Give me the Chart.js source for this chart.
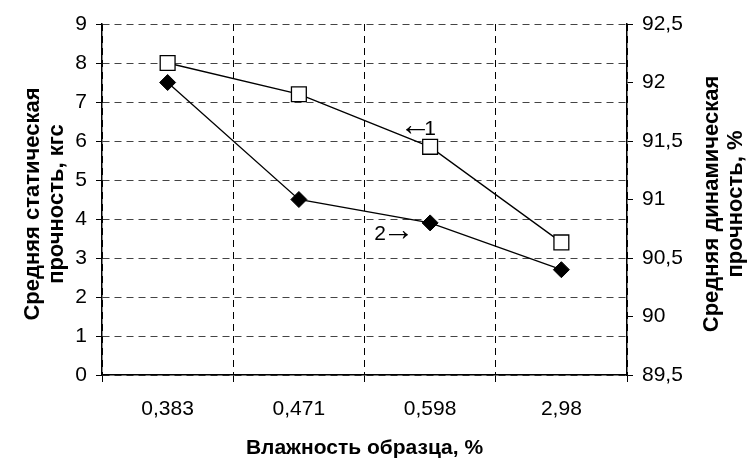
<!DOCTYPE html>
<html>
<head>
<meta charset="utf-8">
<script src="https://cdn.jsdelivr.net/npm/chart.js@4"></script>
<style>
  body { margin: 0; background: #fff; }
  canvas { display: block; }
</style>
</head>
<body>
<canvas id="grafico" width="748" height="461"></canvas>
<script>
const categorias = ['0,383', '0,471', '0,598', '2,98'];
const estatica = [8.0, 7.2, 5.85, 3.4];      // 1, левая ось, кгс
const dinamica = [92.0, 91.0, 90.8, 90.4];   // 2, правая ось, %
const tituloX = 'Влажность образца, %';
const tituloEsq = ['Средняя статическая', 'прочность, кгс'];
const tituloDir = ['Средняя динамическая', 'прочность, %'];

const fonte = 'Arial, "Liberation Sans", "DejaVu Sans", sans-serif';
const virgula = v => String(v).replace('.', ',');

const textos = {
  id: 'textos',
  afterDraw(chart) {
    const ctx = chart.ctx;
    const a = chart.chartArea;
    const x = chart.scales.x;
    const yE = chart.scales.y;
    ctx.save();
    ctx.fillStyle = '#000';
    ctx.textAlign = 'center';
    ctx.textBaseline = 'middle';
    ctx.font = 'bold 21px ' + fonte;
    ctx.fillText(tituloX, (a.left + a.right) / 2, 448);
    ctx.font = 'bold 22px ' + fonte;
    [[33, tituloEsq[0]], [57, tituloEsq[1]], [712, tituloDir[0]], [736, tituloDir[1]]].forEach(([px, t]) => {
      ctx.save();
      ctx.translate(px, 204);
      ctx.rotate(-Math.PI / 2);
      ctx.fillText(t, 0, 0);
      ctx.restore();
    });
    // подписи кривых
    const cx = x.getPixelForValue(2);
    ctx.textAlign = 'left';
    const y1 = yE.getPixelForValue(6.3);
    const y2 = yE.getPixelForValue(3.6);
    ctx.font = '32px ' + fonte;
    ctx.fillText('\u2190', cx - 31, y1 - 3);
    ctx.fillText('\u2192', cx - 48, y2 - 3);
    ctx.font = '21px ' + fonte;
    ctx.fillText('1', cx - 6, y1);
    ctx.fillText('2', cx - 56, y2);
    ctx.restore();
  }
};

new Chart(document.getElementById('grafico'), {
  type: 'line',
  data: {
    labels: categorias,
    datasets: [
      {
        label: '1',
        data: estatica,
        yAxisID: 'y',
        borderColor: '#000',
        borderWidth: 1.3,
        pointStyle: 'rect',
        pointRadius: 10.5,
        pointBackgroundColor: '#fff',
        pointBorderColor: '#000',
        pointBorderWidth: 1.3,
        tension: 0
      },
      {
        label: '2',
        data: dinamica,
        yAxisID: 'y2',
        borderColor: '#000',
        borderWidth: 1.3,
        pointStyle: 'rectRot',
        pointRadius: 8,
        pointBackgroundColor: '#000',
        pointBorderColor: '#000',
        pointBorderWidth: 1,
        tension: 0
      }
    ]
  },
  options: {
    responsive: false,
    animation: false,
    layout: { padding: { top: 24, left: 0, right: 0, bottom: 0 } },
    plugins: { legend: { display: false }, tooltip: { enabled: false } },
    scales: {
      x: {
        offset: true,
        grid: {
          offset: true,
          color: '#000',
          lineWidth: 1,
          tickLength: 7,
          tickBorderDash: [],
          tickColor: '#000'
        },
        border: { display: true, color: '#000', width: 1.5, dash: [7, 5] },
        ticks: { color: '#000', font: { family: fonte, size: 21 }, padding: 15 },
        afterFit(s) { s.height = 86; }
      },
      y: {
        position: 'left',
        min: 0,
        max: 9,
        ticks: { stepSize: 1, color: '#000', font: { family: fonte, size: 21 }, padding: 9, callback: virgula },
        grid: {
          color: '#444',
          lineWidth: 1,
          tickLength: 6,
          tickBorderDash: [],
          tickColor: '#000'
        },
        border: { display: true, color: '#000', width: 1.5, dash: [7, 5] },
        afterFit(s) { s.width = 102; }
      },
      y2: {
        position: 'right',
        min: 89.5,
        max: 92.5,
        ticks: { stepSize: 0.5, color: '#000', font: { family: fonte, size: 21 }, padding: 9, callback: virgula },
        grid: { drawOnChartArea: false, tickLength: 6, tickColor: '#000', tickBorderDash: [] },
        border: { display: true, color: '#000', width: 1.5 },
        afterFit(s) { s.width = 121; }
      }
    }
  },
  plugins: [textos]
});
</script>
</body>
</html>
